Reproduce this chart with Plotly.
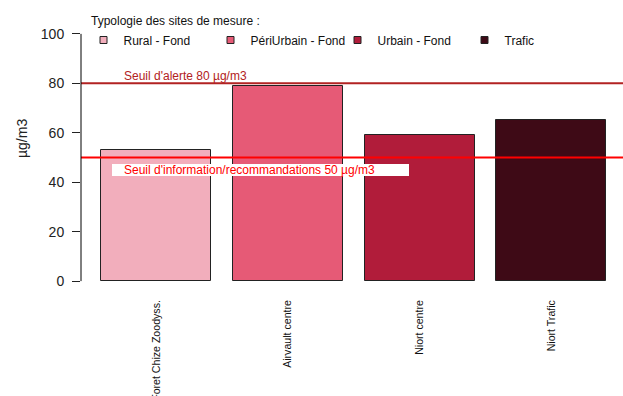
import plotly.graph_objects as go

# Sites, site typologies and measured values (µg/m3)
sites = ["Foret Chize Zoodyss.", "Airvault centre", "Niort centre", "Niort Trafic"]
values = [53, 79, 59, 65]
typologies = ["Rural - Fond", "PériUrbain - Fond", "Urbain - Fond", "Trafic"]
colors = ["#F2AEBC", "#E65A76", "#B11C3A", "#3E0A16"]

# Regulatory thresholds
seuil_alerte = 80
seuil_info = 50
label_alerte = "Seuil d'alerte 80 µg/m3"
label_info = "Seuil d'information/recommandations 50 µg/m3"

y_ticks = [0, 20, 40, 60, 80, 100]

FONT = "Liberation Sans, Arial, sans-serif"
W, H = 623, 396
PL, PT, PW, PH = 81, 24, 542, 267  # plot area in pixels

# bar centres on a barplot-like grid: width 1, space 0.2
centres = [0.2 + 0.5 + 1.2 * i for i in range(len(sites))]

fig = go.Figure()
for i, (site, val, col) in enumerate(zip(sites, values, colors)):
    fig.add_trace(go.Bar(
        x=[centres[i]], y=[val], width=1.0,
        marker=dict(color=col, line=dict(color="#222222", width=1)),
        showlegend=False, hoverinfo="y",
    ))

# legend entries (small squares)
for typ, col in zip(typologies, colors):
    fig.add_trace(go.Scatter(
        x=[None], y=[None], mode="markers", name=typ,
        marker=dict(symbol="square", size=7, color=col,
                    line=dict(color="#222222", width=1)),
    ))

# threshold lines
fig.add_shape(type="line", xref="paper", x0=0, x1=1, yref="y",
              y0=seuil_alerte, y1=seuil_alerte,
              line=dict(color="#B22222", width=2), layer="above")
fig.add_shape(type="line", xref="paper", x0=0, x1=1, yref="y",
              y0=seuil_info, y1=seuil_info,
              line=dict(color="#FF0000", width=2), layer="above")

# white background behind the information threshold label
fig.add_shape(type="rect", xref="paper", x0=(112 - PL) / PW, x1=(409 - PL) / PW,
              yref="y", ysizemode="pixel", yanchor=seuil_info, y0=-6.5, y1=-18.5,
              fillcolor="white", line=dict(width=0), layer="above")

fig.add_annotation(text=label_alerte, xref="paper", x=(122 - PL) / PW, xanchor="left",
                   yref="y", y=seuil_alerte, yshift=7.5, yanchor="middle",
                   showarrow=False, font=dict(family=FONT, size=12, color="#B22222"))
fig.add_annotation(text=label_info, xref="paper", x=(122 - PL) / PW, xanchor="left",
                   yref="y", y=seuil_info, yshift=-12.5, yanchor="middle",
                   showarrow=False, font=dict(family=FONT, size=12, color="#FF0000"))

# y-axis line spanning only the tick range
fig.add_shape(type="line", xref="paper", x0=0, x1=0, yref="y",
              y0=y_ticks[0], y1=y_ticks[-1], line=dict(color="black", width=1))

# y-axis title and legend heading
fig.add_annotation(text="µg/m3", xref="paper", yref="paper",
                   x=(22 - PL) / PW, y=(PT + PH - 139) / PH, textangle=-90,
                   showarrow=False, xanchor="center", yanchor="middle",
                   font=dict(family=FONT, size=14, color="#222222"))
fig.add_annotation(text="Typologie des sites de mesure :", xref="paper", yref="paper",
                   x=(89 - PL) / PW, y=(PT + PH - 21) / PH, xanchor="left", yanchor="middle",
                   showarrow=False, font=dict(family=FONT, size=12, color="#111111"))

fig.update_layout(
    width=W, height=H,
    margin=dict(l=PL, r=W - PL - PW, t=PT, b=H - PT - PH, autoexpand=False),
    plot_bgcolor="white", paper_bgcolor="white",
    font=dict(family=FONT, color="#111111"),
    bargap=0,
    legend=dict(orientation="h", xref="paper", yref="paper",
                x=(103.5 - 20 - PL) / PW, y=(PT + PH - 40) / PH,
                xanchor="left", yanchor="middle",
                entrywidth=82, entrywidthmode="pixels",
                font=dict(family=FONT, size=12, color="#111111"),
                bgcolor="rgba(0,0,0,0)", borderwidth=0, itemclick=False),
    xaxis=dict(range=[0.016, 0.016 + PW / 109.8], tickvals=centres, ticktext=sites,
               tickangle=-90, showgrid=False, zeroline=False, showline=False,
               ticks="", ticklabelstandoff=6, automargin=False,
               tickfont=dict(family=FONT, size=10.6, color="#111111")),
    yaxis=dict(range=[-4, 104], tickvals=y_ticks, showgrid=False, zeroline=False,
               showline=False, ticks="outside", ticklen=8, tickcolor="#222222",
               tickwidth=1, ticklabelstandoff=5, automargin=False,
               tickfont=dict(family=FONT, size=14, color="#222222")),
)

fig.write_html("out.html")
